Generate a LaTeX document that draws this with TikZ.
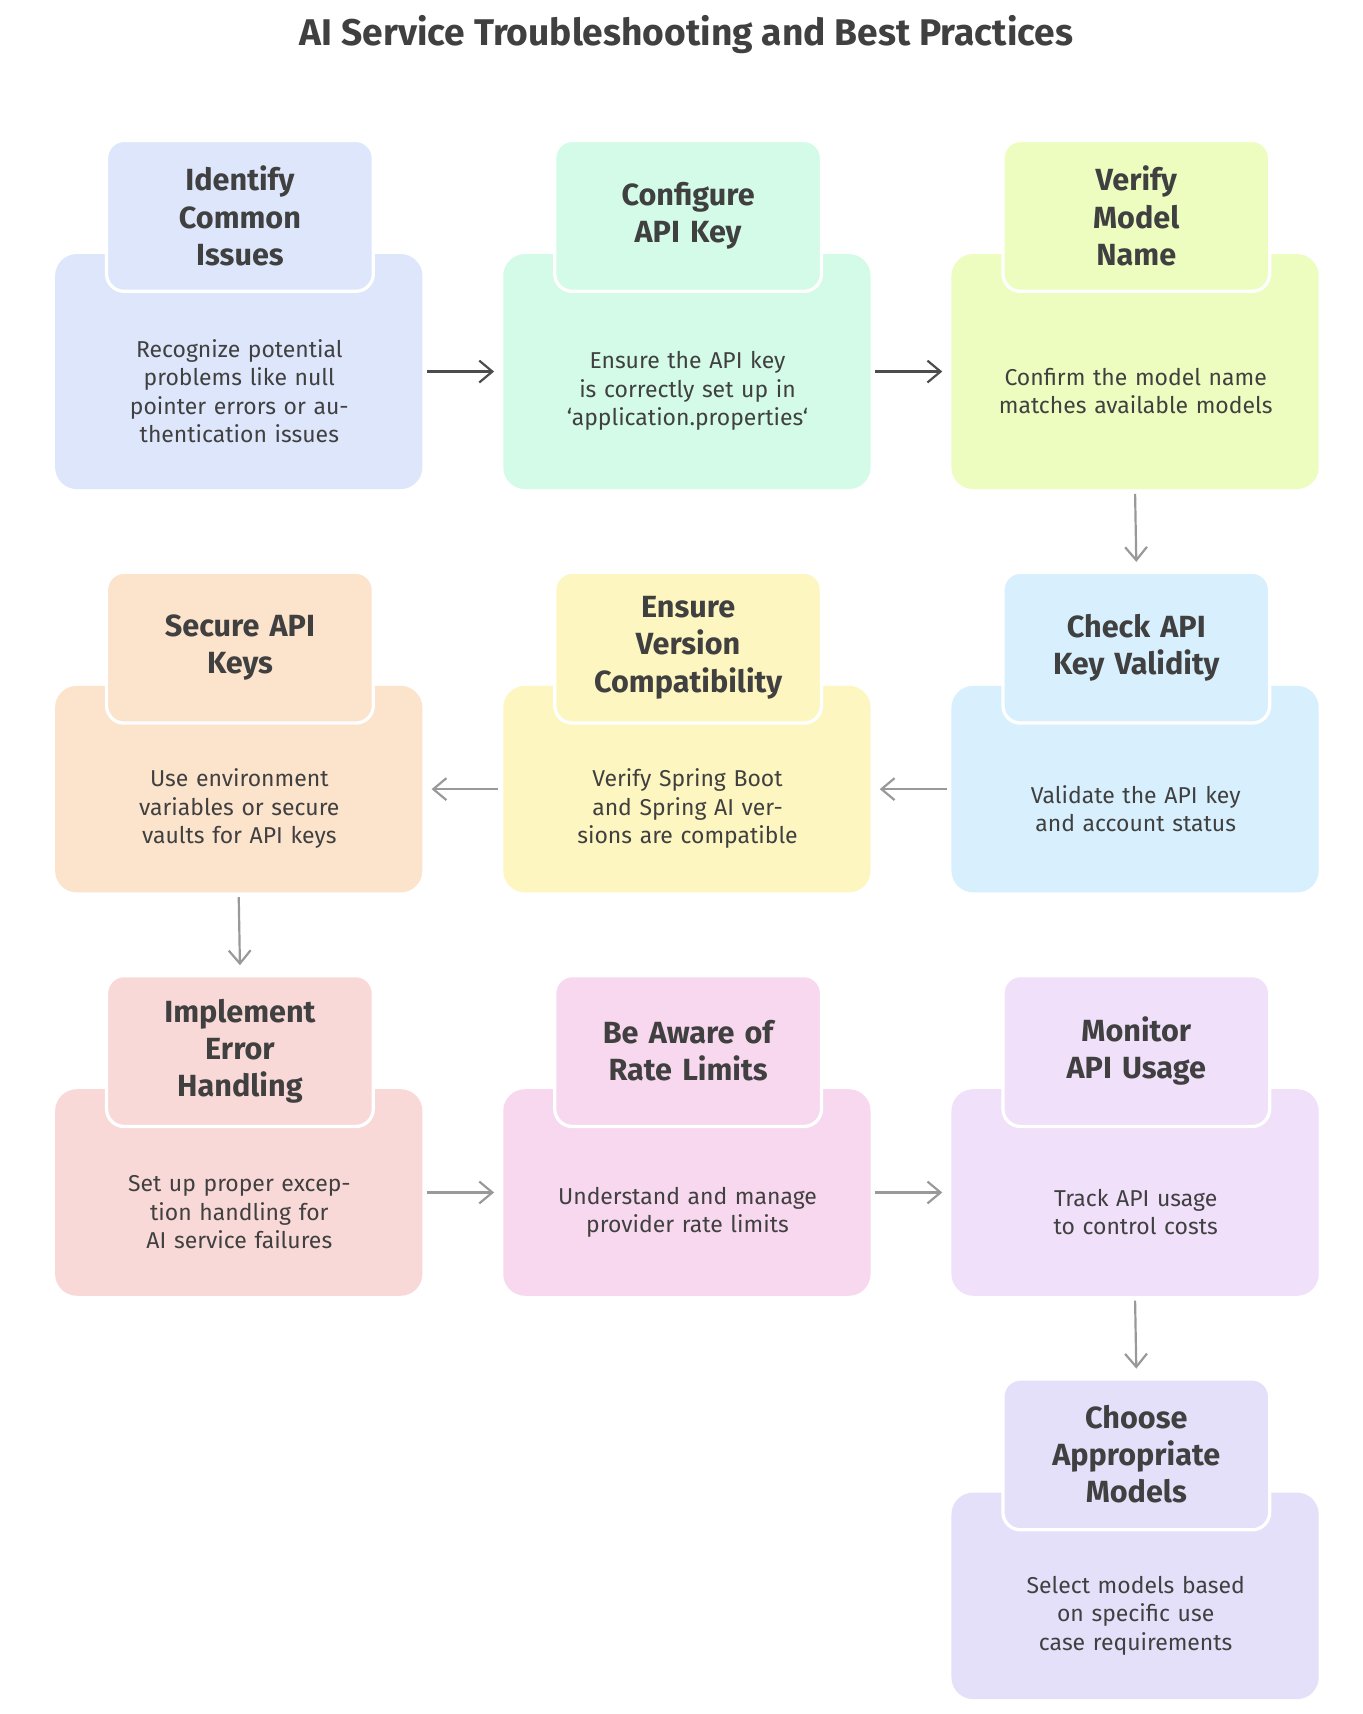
\documentclass[tikz,border=0pt]{standalone}
\usepackage{fontspec}
\setmainfont{Fira Sans}
\usetikzlibrary{arrows.meta}
\begin{document}
\begin{tikzpicture}[x=0.5pt,y=-0.5pt,
 body/.style={rounded corners=10pt,minimum width=168pt,minimum height=#1,inner sep=0pt,anchor=north west,draw=none},
 tab/.style={rounded corners=8pt,minimum width=122pt,minimum height=69pt,anchor=north west,draw=white,line width=1.5pt},
 ttl/.style={font=\bfseries\fontsize{14}{17}\selectfont,text=black!75,align=center,text width=112pt},
 txt/.style={font=\fontsize{10.5}{13}\selectfont,text=black!75,align=center,text width=130pt},
 dk/.style={-{Straight Barb[length=6pt,width=10pt]},draw=black!70,line width=1pt},
 lt/.style={-{Straight Barb[length=6pt,width=10pt]},draw=black!40,line width=1pt}]
\useasboundingbox (0,0) rectangle (1246,1568);
\fill[white] (0,0) rectangle (1246,1568);
\node[font=\bfseries\fontsize{17}{20}\selectfont,text=black!75] (title) at (628,32) {AI Service Troubleshooting and Best Practices};
\definecolor{cA}{HTML}{DDE6FB}\definecolor{cB}{HTML}{D3FBE8}\definecolor{cC}{HTML}{EDFDC0}
\definecolor{cD}{HTML}{FBE3CC}\definecolor{cE}{HTML}{FEF6C0}\definecolor{cF}{HTML}{D8F0FD}
\definecolor{cG}{HTML}{F8D9D7}\definecolor{cH}{HTML}{F7D8EE}\definecolor{cI}{HTML}{F0E0FA}
\definecolor{cJ}{HTML}{E5E0FA}
% args: name, x, tabtop, bodytop, bodyheight, color, title, text
\newcommand{\card}[8]{%
 \node[body=#5,fill=#6] (#1) at (#2,#4) {};
 \node[tab,fill=#6] (#1t) at (#2+46,#3) {};
 \node[ttl] at (#1t.center) {#7};
 \node[txt] at ($(#1.south)!0.5!(#1t.south)$) {#8};
}
\usetikzlibrary{calc}
\card{a}{50}{127}{232}{107.5pt}{cA}{Identify\\Common\\Issues}{Recognize potential problems like null pointer errors or authentication issues}
\card{b}{460}{127}{232}{107.5pt}{cB}{Configure\\API Key}{Ensure the API key is correctly set up in `application.properties`}
\card{c}{870}{127}{232}{107.5pt}{cC}{Verify\\Model\\Name}{Confirm the model name matches available models}
\card{d}{50}{522}{627}{94.5pt}{cD}{Secure API\\Keys}{Use environment variables or secure vaults for API keys}
\card{e}{460}{522}{627}{94.5pt}{cE}{Ensure\\Version\\Compatibility}{Verify Spring Boot and Spring AI versions are compatible}
\card{f}{870}{522}{627}{94.5pt}{cF}{Check API\\Key Validity}{Validate the API key and account status}
\card{g}{50}{891}{996}{94.5pt}{cG}{Implement\\Error\\Handling}{Set up proper exception handling for AI service failures}
\card{h}{460}{891}{996}{94.5pt}{cH}{Be Aware of\\Rate Limits}{Understand and manage provider rate limits}
\card{i}{870}{891}{996}{94.5pt}{cI}{Monitor\\API Usage}{Track API usage to control costs}
\card{j}{870}{1260}{1365}{94.5pt}{cJ}{Choose\\Appropriate\\Models}{Select models based on specific use case requirements}
\draw[dk] ([xshift=2pt,yshift=0pt]a.east) -- ([xshift=-4pt]b.west);
\draw[dk] ([xshift=2pt]b.east) -- ([xshift=-4pt]c.west);
\draw[lt] ([yshift=-2pt]c.south) -- ([yshift=4pt]ft.north);
\draw[lt] ([xshift=-2pt]f.west) -- ([xshift=4pt]e.east);
\draw[lt] ([xshift=-2pt]e.west) -- ([xshift=4pt]d.east);
\draw[lt] ([yshift=-2pt]d.south) -- ([yshift=4pt]gt.north);
\draw[lt] ([xshift=2pt]g.east) -- ([xshift=-4pt]h.west);
\draw[lt] ([xshift=2pt]h.east) -- ([xshift=-4pt]i.west);
\draw[lt] ([yshift=-2pt]i.south) -- ([yshift=4pt]jt.north);
\end{tikzpicture}
\end{document}
